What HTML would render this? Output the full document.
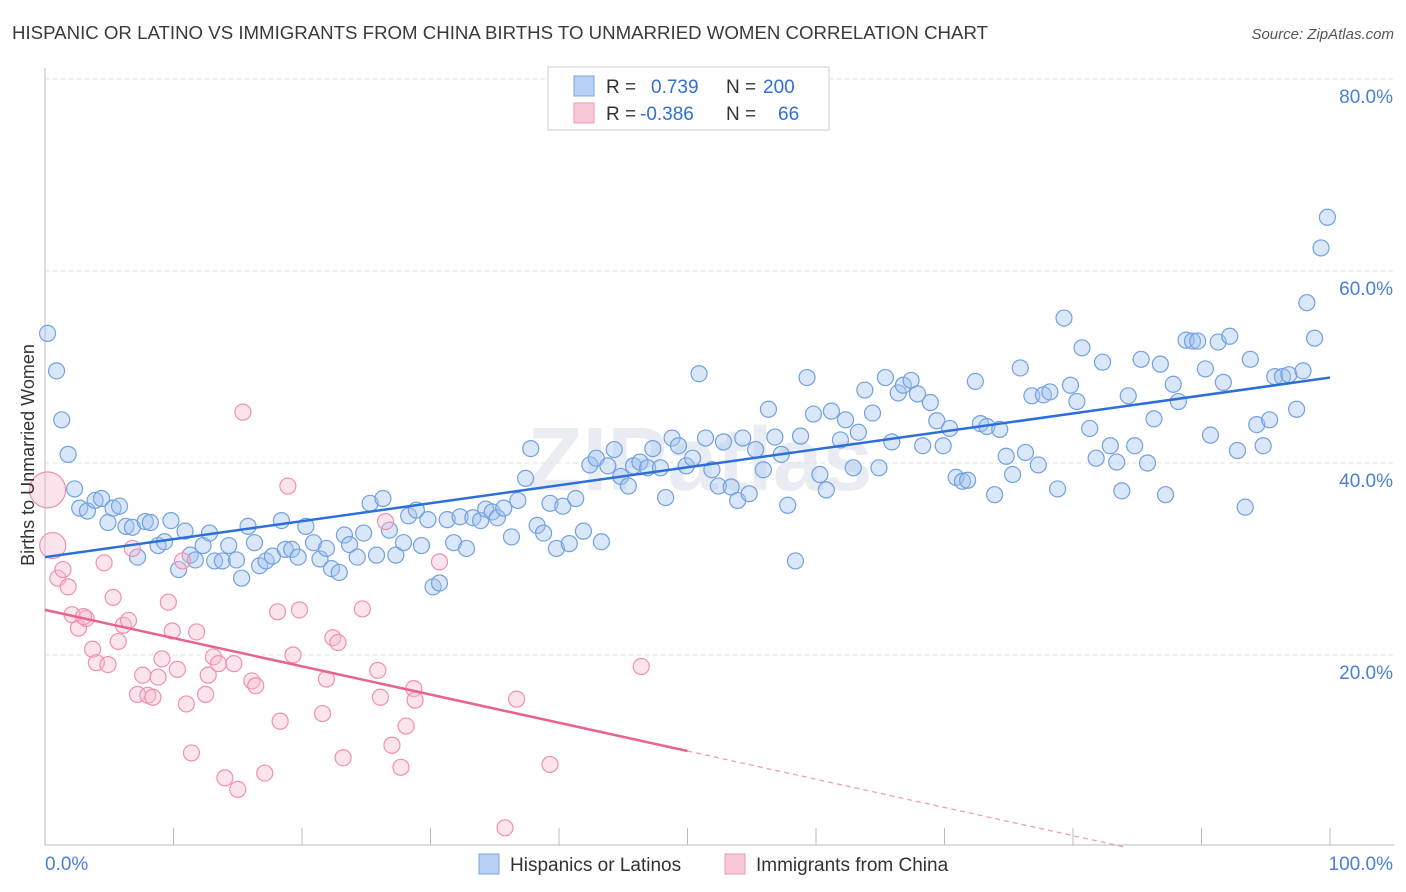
<!DOCTYPE html>
<html><head><meta charset="utf-8"><style>
body{margin:0;background:#fff;font-family:"Liberation Sans",sans-serif;}
svg{display:block}
</style></head><body>
<svg id="chart" width="1406" height="892" xmlns="http://www.w3.org/2000/svg">
<text x="12" y="39" font-size="18" fill="#3a3a3a" textLength="976" lengthAdjust="spacingAndGlyphs">HISPANIC OR LATINO VS IMMIGRANTS FROM CHINA BIRTHS TO UNMARRIED WOMEN CORRELATION CHART</text>
<text x="1394" y="39" font-size="15" fill="#555" font-style="italic" text-anchor="end">Source: ZipAtlas.com</text>
<text x="700" y="490" font-size="90" fill="#e9edf3" text-anchor="middle" font-weight="bold">ZIPatlas</text>
<g id="grid"></g><g id="axes"></g><g id="marks"></g>
<text transform="translate(34,455) rotate(-90)" font-size="18" fill="#333" text-anchor="middle">Births to Unmarried Women</text>
<g>
<rect x="548" y="67" width="281" height="63" fill="#fff" stroke="#ccc"/>
<rect x="574" y="76" width="20" height="20" fill="#b7d0f3" stroke="#7aa6e3"/>
<rect x="574" y="103" width="20" height="20" fill="#f9c8d7" stroke="#f09ab5"/>
<text y="93" font-size="19" fill="#333"><tspan x="606">R =</tspan><tspan x="651" fill="#2f6fd6">0.739</tspan><tspan x="726">N =</tspan><tspan x="763" fill="#2f6fd6">200</tspan></text>
<text y="120" font-size="19" fill="#333"><tspan x="606">R =</tspan><tspan x="640" fill="#2f6fd6">-0.386</tspan><tspan x="726">N =</tspan><tspan x="778" fill="#2f6fd6">66</tspan></text>
</g>
<g>
<rect x="479" y="854" width="20" height="20" fill="#b7d0f3" stroke="#7aa6e3"/>
<text x="510" y="871" font-size="19" fill="#333">Hispanics or Latinos</text>
<rect x="725" y="854" width="20" height="20" fill="#f9c8d7" stroke="#f09ab5"/>
<text x="756" y="871" font-size="19" fill="#333">Immigrants from China</text>
</g>
</svg>
<script>
const blueX=[0.2,0.9,1.3,1.8,2.3,2.7,3.3,3.9,4.4,4.9,5.3,5.8,6.3,6.8,7.2,7.8,8.2,8.8,9.3,9.8,10.4,10.9,11.3,11.7,12.3,12.8,13.2,13.8,14.3,14.9,15.3,15.8,16.3,16.7,17.2,17.7,18.4,18.7,19.2,19.7,20.3,20.9,21.4,21.9,22.3,22.9,23.3,23.7,24.3,24.8,25.3,25.8,26.3,26.8,27.3,27.9,28.3,28.9,29.3,29.8,30.2,30.7,31.3,31.8,32.3,32.8,33.3,33.9,34.3,34.8,35.2,35.7,36.3,36.8,37.4,37.8,38.3,38.8,39.3,39.8,40.3,40.8,41.3,41.9,42.4,42.9,43.3,43.8,44.3,44.8,45.4,45.8,46.3,46.9,47.3,47.9,48.3,48.8,49.3,49.9,50.4,50.9,51.4,51.9,52.4,52.8,53.4,53.9,54.3,54.8,55.3,55.9,56.3,56.8,57.3,57.8,58.4,58.8,59.3,59.8,60.3,60.8,61.2,61.9,62.3,62.9,63.3,63.8,64.4,64.9,65.4,65.9,66.4,66.8,67.4,67.9,68.3,68.9,69.4,69.9,70.4,70.9,71.4,71.8,72.4,72.8,73.3,73.9,74.3,74.8,75.3,75.9,76.3,76.8,77.3,77.7,78.2,78.8,79.3,79.8,80.3,80.7,81.3,81.8,82.3,82.9,83.4,83.8,84.3,84.8,85.3,85.8,86.3,86.8,87.2,87.8,88.2,88.8,89.3,89.7,90.3,90.7,91.3,91.7,92.2,92.8,93.4,93.8,94.3,94.8,95.3,95.7,96.3,96.8,97.4,97.9,98.2,98.8,99.3,99.8];
const blueY=[53.5,49.6,44.5,40.9,37.3,35.3,35.0,36.1,36.3,33.8,35.3,35.5,33.4,33.3,30.2,33.9,33.8,31.4,31.8,34.0,28.9,32.9,30.4,29.9,31.4,32.7,29.8,29.8,31.4,29.9,28.0,33.4,31.7,29.3,29.8,30.3,34.0,31.0,31.0,30.2,33.4,31.7,30.0,31.1,29.0,28.6,32.5,31.5,30.2,32.7,35.8,30.4,36.3,33.0,30.4,31.7,34.5,35.1,31.4,34.1,27.1,27.5,34.1,31.7,34.4,31.1,34.3,34.0,35.2,34.9,34.3,35.3,32.3,36.1,38.4,41.5,33.5,32.7,35.8,31.1,35.5,31.6,36.3,32.9,39.8,40.5,31.8,39.7,41.4,38.6,37.6,39.7,40.1,39.5,41.5,39.5,36.4,42.6,41.8,39.7,40.5,49.3,42.6,39.3,37.6,42.2,37.5,36.1,42.6,36.8,41.4,39.3,45.6,42.7,40.9,35.6,29.8,42.8,48.9,45.1,38.8,37.2,45.4,42.4,44.5,39.5,43.2,47.6,45.2,39.5,48.9,42.2,47.3,48.1,48.6,47.2,41.8,46.3,44.4,41.8,43.6,38.5,38.1,38.2,48.5,44.1,43.8,36.7,43.5,40.7,38.8,49.9,41.1,47.0,39.8,47.1,47.4,37.3,55.1,48.1,46.4,52.0,43.6,40.5,50.5,41.8,40.1,37.1,47.0,41.8,50.8,40.0,44.6,50.3,36.7,48.2,46.4,52.8,52.7,52.7,49.8,42.9,52.6,48.4,53.2,41.3,35.4,50.8,44.0,41.8,44.5,49.0,49.0,49.2,45.6,49.6,56.7,53.0,62.4,65.6];
const pinkX=[0.2,0.6,1.0,1.4,1.8,2.1,2.6,3.2,3.7,4.0,4.6,4.9,5.3,5.7,6.1,6.5,6.8,7.2,7.6,8.0,8.4,8.8,9.1,9.6,9.9,10.3,10.7,11.0,11.4,11.8,12.5,12.7,13.1,13.5,14.0,14.7,15.0,15.4,16.1,16.4,17.1,18.3,18.1,18.9,19.3,19.8,21.6,21.9,22.4,22.8,23.2,24.7,25.9,26.1,26.5,27.0,27.7,28.1,28.7,28.8,30.7,35.8,36.7,39.3,46.4,3.0];
const pinkY=[37.2,31.4,28.0,28.9,27.1,24.2,22.8,23.8,20.6,19.2,29.6,19.0,26.0,21.4,23.1,23.6,31.1,15.9,17.9,15.8,15.6,17.7,19.6,25.5,22.5,18.5,29.8,14.9,9.8,22.4,15.9,17.9,19.8,19.1,7.2,19.1,6.0,45.3,17.3,16.8,7.7,13.1,24.5,37.6,20.0,24.7,13.9,17.5,21.8,21.3,9.3,24.8,18.4,15.6,33.9,10.6,8.3,12.6,16.5,15.3,29.7,2.0,15.4,8.6,18.8,24.0];
const pinkR=[18,13];
const blueFit=[30.2,48.9];
const pinkFit=[24.7,-0.294];
const yTicks=[20,40,60,80];
const xTickVals=[0,10,20,30,40,50,60,70,80,90,100];
const NS="http://www.w3.org/2000/svg";
const X=v=>45+v*12.85, Y=v=>847-v*9.6;
function mk(p,tag,at){const e=document.createElementNS(NS,tag);for(const k in at)e.setAttribute(k,at[k]);p.appendChild(e);return e;}
const grid=document.getElementById('grid'),axes=document.getElementById('axes'),marks=document.getElementById('marks');
yTicks.forEach(t=>{
 const l=mk(grid,'line',{x1:45,x2:1394,y1:Y(t),y2:Y(t),stroke:'#dde1e6','stroke-dasharray':'4,4'});
 
 
 const tx=mk(axes,'text',{x:1393,y:Y(t)+24,'font-size':19,fill:'#4a7fd4','text-anchor':'end'});
 tx.textContent=t.toFixed(1)+'%';
 
 
});
const gt=mk(grid,'line',{x1:45,x2:1394,y1:79,y2:79,stroke:'#dde1e6','stroke-dasharray':'4,4'});


const ya=mk(axes,'line',{x1:45,x2:45,y1:68,y2:845,stroke:'#bbb'});


const xa=mk(axes,'line',{x1:45,x2:1394,y1:845,y2:845,stroke:'#bbb'});


xTickVals.forEach(t=>{
 const l=mk(axes,'line',{x1:X(t),x2:X(t),y1:828,y2:845,stroke:'#bbb'});
 
 
});
[[0,'0.0%','start',45],[100,'100.0%','end',1393]].forEach(d=>{
 const tx=mk(axes,'text',{x:d[3],y:870,'font-size':19,fill:'#4a7fd4','text-anchor':d[2]});
 tx.textContent=d[1];
 
 
});
blueX.forEach((x,i)=>{
 const c=mk(marks,'circle',{cx:X(x),cy:Y(blueY[i]),r:8,fill:'rgba(160,196,240,0.4)',stroke:'#72a0e0','stroke-width':1.2});
 
 
});
pinkX.forEach((x,i)=>{
 const c=mk(marks,'circle',{cx:X(x),cy:Y(pinkY[i]),r:i<2?pinkR[i]:8,fill:'rgba(248,185,205,0.38)',stroke:'#f090ae','stroke-width':1.2});
 
 
});
const bl=mk(marks,'line',{x1:X(0),y1:Y(blueFit[0]),x2:X(100),y2:Y(blueFit[1]),stroke:'#2c6fd8','stroke-width':2.5});


const pe=-pinkFit[0]/pinkFit[1];
const pl=mk(marks,'line',{x1:X(0),y1:Y(pinkFit[0]),x2:X(50),y2:Y(pinkFit[0]+pinkFit[1]*50),stroke:'#e8638f','stroke-width':2.5});


const pd=mk(marks,'line',{x1:X(50),y1:Y(pinkFit[0]+pinkFit[1]*50),x2:X(pe),y2:Y(0),stroke:'#e8a0b8','stroke-width':1.3,'stroke-dasharray':'5,4'});


</script>
</body></html>
